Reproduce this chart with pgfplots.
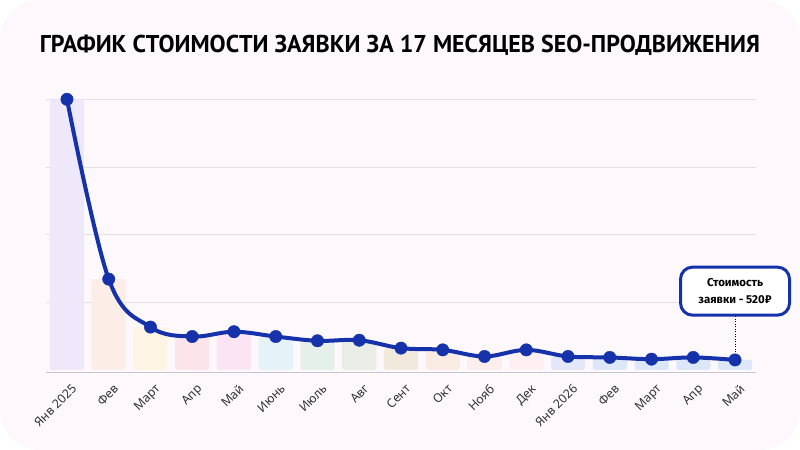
\documentclass[border=0pt]{standalone}
\usepackage{fontspec}
\setmainfont{Noto Sans}
\newfontfamily\titlefont{PT Sans}
\newfontfamily\callfont{Fira Sans}
\usepackage{pgfplots}
\pgfplotsset{compat=1.18}
\definecolor{cardbg}{HTML}{FCF8FC}
\definecolor{lineblue}{HTML}{1632AA}
\definecolor{gridc}{HTML}{E4DFE7}
\definecolor{basegrey}{HTML}{C8C6CA}
\definecolor{ticktext}{HTML}{333333}
\definecolor{b1}{HTML}{EFE8FA}
\definecolor{b2}{HTML}{FCEEE7}
\definecolor{b3}{HTML}{FEF4E4}
\definecolor{b4}{HTML}{FBE5EA}
\definecolor{b5}{HTML}{FBE5F5}
\definecolor{b6}{HTML}{E5F3F8}
\definecolor{b7}{HTML}{E6F0EB}
\definecolor{b8}{HTML}{EAEDE5}
\definecolor{b9}{HTML}{F1EADC}
\definecolor{b10}{HTML}{FBECE3}
\definecolor{b11}{HTML}{FDEEEE}
\definecolor{b12}{HTML}{FDEFF2}
\definecolor{b13}{HTML}{E4E6FA}
\definecolor{b14}{HTML}{DCE8FA}
\begin{document}
\begin{tikzpicture}
\useasboundingbox (0,0) rectangle (800bp,450bp);
\fill[white] (0,0) rectangle (800bp,450bp);
\fill[cardbg, rounded corners=40bp] (0,0) rectangle (800bp,450bp);
\node[anchor=base, inner sep=0pt] at (400bp,397.5bp) {\resizebox{720bp}{17.5bp}{\titlefont\bfseries ГРАФИК СТОИМОСТИ ЗАЯВКИ ЗА 17 МЕСЯЦЕВ SEO-ПРОДВИЖЕНИЯ}};
\begin{axis}[
  at={(46.1bp,77.3bp)}, anchor=south west,
  scale only axis, width=709.8bp, height=273.4bp,
  xmin=-0.5, xmax=16.5, ymin=-140, ymax=14000,
  axis line style={draw=none},
  scaled y ticks=false,
  ytick={3500,7000,10500,14000}, yticklabels={},
  extra y ticks={-140}, extra y tick labels={},
  extra y tick style={grid style={draw=basegrey, line width=1bp}},
  ymajorgrids, grid style={draw=gridc, line width=0.8bp},
  major tick length=0pt,
  xtick={0,...,16},
  xticklabels={Янв 2025,Фев,Март,Апр,Май,Июнь,Июль,Авг,Сент,Окт,Нояб,Дек,Янв 2026,Фев,Март,Апр,Май},
  xticklabel style={font=\fontsize{12.3}{14}\selectfont, text=ticktext, inner sep=0pt, xshift=4bp, yshift=-10.5bp, rotate=45, anchor=north east},
  clip=false,
]
\addplot[ybar, bar width=0.815, bar shift=0pt, fill=b1, draw=none, rounded corners=2.5bp] coordinates {(0,14000)};
\addplot[ybar, bar width=0.815, bar shift=0pt, fill=b2, draw=none, rounded corners=2.5bp] coordinates {(1,4700)};
\addplot[ybar, bar width=0.815, bar shift=0pt, fill=b3, draw=none, rounded corners=2.5bp] coordinates {(2,2220)};
\addplot[ybar, bar width=0.815, bar shift=0pt, fill=b4, draw=none, rounded corners=2.5bp] coordinates {(3,1730)};
\addplot[ybar, bar width=0.815, bar shift=0pt, fill=b5, draw=none, rounded corners=2.5bp] coordinates {(4,1980)};
\addplot[ybar, bar width=0.815, bar shift=0pt, fill=b6, draw=none, rounded corners=2.5bp] coordinates {(5,1730)};
\addplot[ybar, bar width=0.815, bar shift=0pt, fill=b7, draw=none, rounded corners=2.5bp] coordinates {(6,1510)};
\addplot[ybar, bar width=0.815, bar shift=0pt, fill=b8, draw=none, rounded corners=2.5bp] coordinates {(7,1540)};
\addplot[ybar, bar width=0.815, bar shift=0pt, fill=b9, draw=none, rounded corners=2.5bp] coordinates {(8,1130)};
\addplot[ybar, bar width=0.815, bar shift=0pt, fill=b10, draw=none, rounded corners=2.5bp] coordinates {(9,1040)};
\addplot[ybar, bar width=0.815, bar shift=0pt, fill=b11, draw=none, rounded corners=2.5bp] coordinates {(10,700)};
\addplot[ybar, bar width=0.815, bar shift=0pt, fill=b12, draw=none, rounded corners=2.5bp] coordinates {(11,1040)};
\addplot[ybar, bar width=0.815, bar shift=0pt, fill=b13, draw=none, rounded corners=2.5bp] coordinates {(12,700)};
\addplot[ybar, bar width=0.815, bar shift=0pt, fill=b14, draw=none, rounded corners=2.5bp] coordinates {(13,650)};
\addplot[ybar, bar width=0.815, bar shift=0pt, fill=b14, draw=none, rounded corners=2.5bp] coordinates {(14,560)};
\addplot[ybar, bar width=0.815, bar shift=0pt, fill=b14, draw=none, rounded corners=2.5bp] coordinates {(15,650)};
\addplot[ybar, bar width=0.815, bar shift=0pt, fill=b14, draw=none, rounded corners=2.5bp] coordinates {(16,520)};
\draw[black, line width=1bp, dash pattern=on 1bp off 1.5bp] (axis cs:16,520) -- ([yshift=44bp]axis cs:16,520);
\addplot[smooth, tension=0.6, color=lineblue, line width=4bp, mark=*, mark size=6.2bp, mark options={solid, fill=lineblue, draw=lineblue, line width=0.4bp}] coordinates {
(0,14000) (1,4700) (2,2220) (3,1730) (4,1980) (5,1730) (6,1510) (7,1540) (8,1130) (9,1040) (10,700) (11,1040) (12,700) (13,650) (14,560) (15,650) (16,520)};
\node[draw=lineblue, line width=3bp, fill=white, rounded corners=12bp, minimum width=109bp, minimum height=48bp, inner sep=0pt, align=center, font=\callfont\bfseries\fontsize{11.5}{16.7}\selectfont, yshift=68.8bp] at (axis cs:16,520) {Стоимость\\заявки - 520₽};
\end{axis}
\end{tikzpicture}
\end{document}
